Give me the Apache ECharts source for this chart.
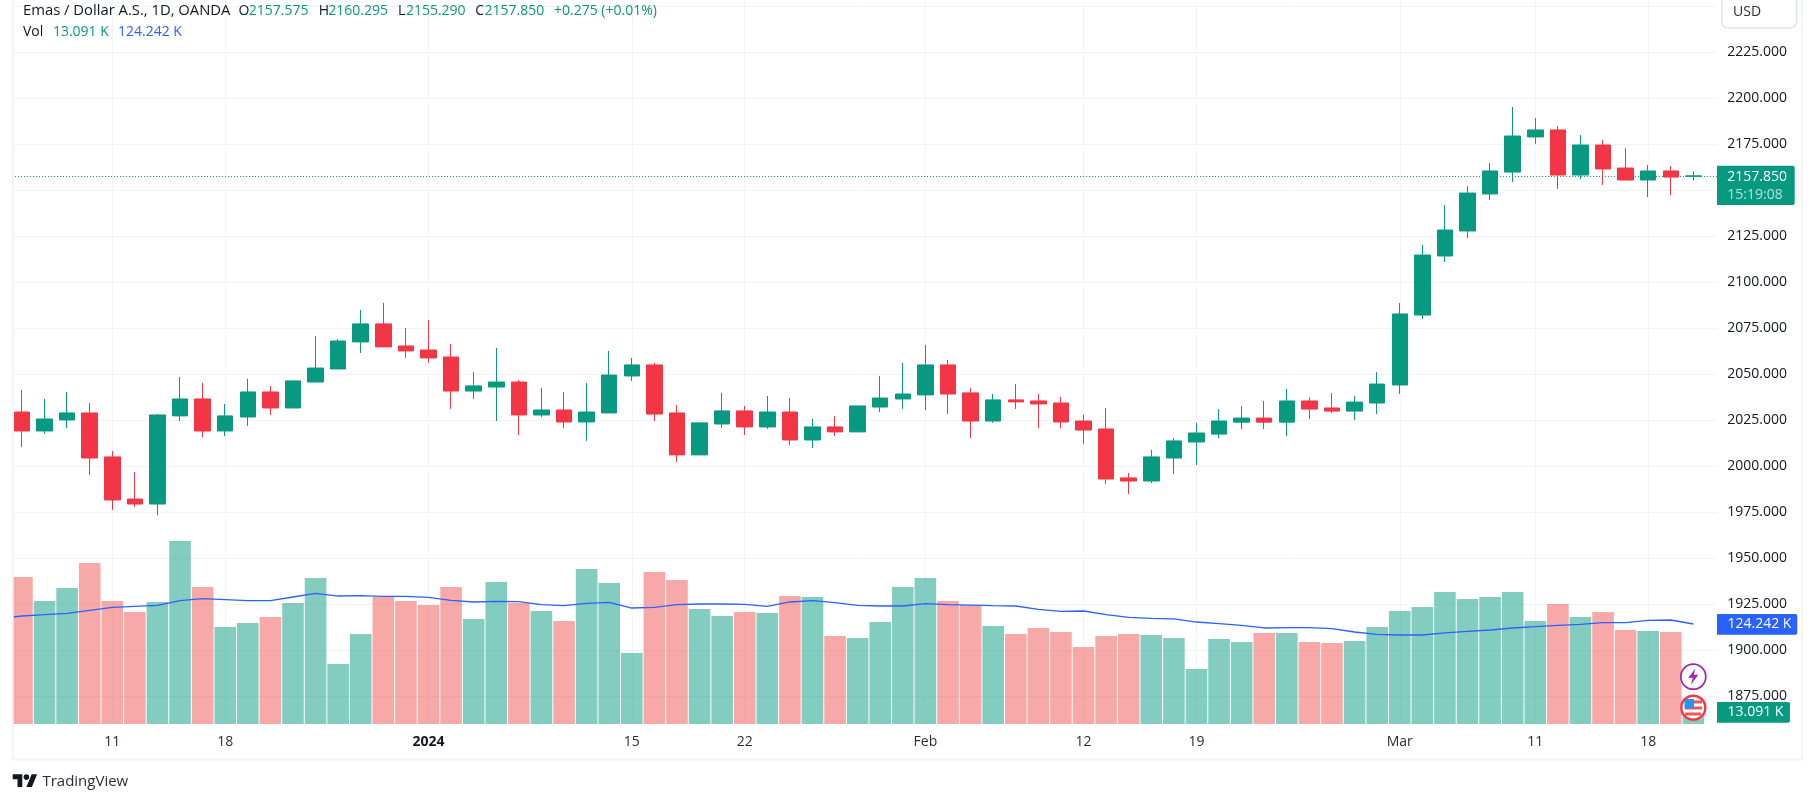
<!DOCTYPE html>
<html><head><meta charset="utf-8">
<style>html,body{margin:0;padding:0;background:#fff;overflow:hidden;width:1815px;height:803px}#c{position:absolute;left:-30px;top:0;width:1845px;height:803px}</style>
<script src="https://cdn.jsdelivr.net/npm/echarts@6/dist/echarts.min.js"></script>
</head><body><div id="c"></div>
<script>
const opens=[2029.5,2019.2,2025.2,2029.0,2005.1,1982.2,1979.5,2027.4,2036.6,2019.2,2026.8,2040.4,2031.7,2045.8,2052.9,2067.6,2077.4,2065.4,2063.2,2059.4,2040.9,2043.1,2045.8,2027.9,2030.6,2024.1,2029.0,2049.1,2055.1,2029.0,2006.2,2023.0,2030.1,2021.4,2029.5,2014.3,2021.4,2018.7,2032.2,2036.6,2038.8,2055.1,2039.9,2024.6,2036.1,2035.5,2034.4,2024.6,2020.3,1993.7,1992.0,2004.5,2013.2,2017.5,2024.0,2026.2,2024.0,2035.5,2031.7,2030.0,2034.4,2044.2,2082.2,2114.3,2127.9,2148.0,2159.9,2179.0,2182.8,2158.3,2174.6,2162.1,2155.6,2160.5,2157.575];
const closes=[2019.2,2025.7,2029.0,2004.5,1981.7,1979.5,2027.9,2036.6,2019.2,2027.4,2040.4,2031.7,2046.4,2053.4,2068.1,2077.4,2064.9,2062.7,2058.9,2040.9,2043.7,2045.8,2027.9,2030.6,2024.1,2029.5,2049.6,2055.1,2028.4,2006.2,2023.6,2030.1,2021.4,2029.5,2014.3,2021.4,2018.7,2032.8,2037.1,2039.3,2055.1,2039.3,2024.6,2036.1,2035.0,2033.9,2024.1,2019.7,1993.1,1992.0,2005.1,2013.8,2018.1,2024.6,2026.2,2024.0,2035.5,2031.1,2030.0,2034.9,2044.7,2082.8,2114.8,2128.4,2148.5,2160.5,2179.5,2182.8,2158.3,2174.6,2161.6,2155.6,2160.5,2157.2,2157.85];
const lows=[2010.5,2017.6,2020.8,1995.3,1976.3,1977.9,1973.5,2024.6,2015.9,2016.5,2021.9,2027.9,2031.7,2045.8,2052.9,2061.6,2064.9,2058.9,2056.2,2031.2,2036.6,2024.6,2017.0,2026.8,2020.8,2013.8,2029.0,2046.4,2024.6,2002.4,2006.2,2020.8,2017.0,2020.3,2011.6,2010.0,2016.5,2018.7,2029.5,2031.2,2030.6,2028.4,2015.4,2023.6,2031.2,2020.8,2020.8,2012.1,1990.4,1985.0,1990.9,1995.8,2000.7,2015.3,2020.2,2020.2,2016.4,2025.7,2028.9,2025.1,2028.4,2039.3,2080.0,2111.0,2124.1,2144.7,2154.5,2175.2,2150.7,2156.1,2152.9,2155.6,2146.3,2147.4,2155.29];
const highs=[2041.5,2036.6,2040.4,2034.4,2008.3,1996.9,2028.4,2048.5,2045.3,2033.9,2047.5,2043.7,2046.4,2070.8,2069.2,2085.0,2088.8,2075.2,2079.5,2066.5,2051.3,2064.3,2046.9,2042.6,2040.4,2045.3,2062.7,2058.9,2056.2,2033.3,2023.6,2039.9,2032.8,2038.2,2037.1,2025.7,2027.4,2032.8,2049.1,2056.2,2065.9,2057.8,2042.6,2039.3,2044.7,2039.3,2037.7,2027.9,2031.7,1996.4,2008.9,2015.4,2023.6,2031.1,2032.7,2035.5,2042.0,2037.6,2039.8,2038.2,2051.2,2088.7,2120.3,2142.0,2152.3,2164.8,2195.3,2189.3,2184.9,2180.0,2177.3,2173.0,2163.7,2163.2,2160.295];
const volumes=[182.6,152.8,169.0,200.0,152.8,139.1,151.6,227.4,170.2,120.5,125.5,132.9,150.3,181.4,74.5,111.8,157.8,152.8,147.8,170.2,130.5,176.4,150.3,140.4,128.0,192.6,175.2,88.2,188.8,178.9,142.9,134.2,139.1,137.9,159.0,157.8,109.3,106.8,126.7,170.2,181.4,152.8,147.8,121.8,111.8,119.3,114.3,95.7,109.3,111.8,110.6,106.8,68.3,105.6,101.9,113.1,113.1,101.9,100.6,103.1,120.5,140.4,145.4,164.0,155.3,157.8,164.0,128.0,149.1,132.9,139.1,116.8,115.5,114.3,13.091];
// one leading value: the moving average of the session just left of the visible window
const volumeMA=[130.9,134.2,135.8,137.5,141.2,144.9,146.2,147.4,153.2,155.7,154.5,153.2,153.2,157.8,162.3,159.0,159.4,158.6,158.6,157.4,153.6,151.6,152.4,152.0,148.3,147.0,149.9,151.2,144.1,144.9,148.3,149.1,149.1,148.7,146.2,151.6,153.2,150.7,147.4,146.6,146.6,149.5,148.3,147.8,147.0,146.6,142.5,140.0,140.4,135.8,132.5,131.3,130.5,126.7,124.7,122.6,119.3,119.7,119.7,118.4,114.3,111.4,110.6,110.6,113.1,115.1,116.8,119.3,120.9,122.6,123.8,125.9,125.9,128.8,129.2,124.242];
const tickLabels={5:'11',10:'18',19:'2024',28:'15',33:'22',41:'Feb',48:'12',53:'19',62:'Mar',68:'11',73:'18'};
const lastPrice=2157.85;

const FONT='"Open Sans", sans-serif';
const UP='#089981',DOWN='#F23645',BLUE='#2962FF',GRID='#f2f3f5',BORDER='#f0f3fa',TXT='#131722';
const categories=volumeMA.map((_,i)=>String(i)).concat(['76']);
const candles=[['-','-','-','-']].concat(opens.map((o,i)=>[o,closes[i],lows[i],highs[i]]));
const volBars=['-'].concat(volumes.map((v,i)=>({value:v,itemStyle:{color:closes[i]>=opens[i]?'rgba(8,153,129,0.5)':'rgba(239,83,80,0.5)'}})));
const isTick=i=>tickLabels[i]!==undefined;

const shift=30,bandW=22.587,plotL=shift+10.65-bandW,plotW=bandW*77;

function txt(x,y,s,color,font){return {type:'text',z:100,x:x,y:y,style:{text:s,fill:color,font:font||('14px '+FONT),verticalAlign:'middle'}}}
function rect(x,y,w,h,fill,r,z){return {type:'rect',z:z||90,shape:{x:x,y:y,width:w,height:h,r:r||0},style:{fill:fill}}}
function poly(pts,fill,z){return {type:'polygon',z:z||100,shape:{points:pts},style:{fill:fill}}}

const graphics=[
 rect(-30,0,42.7,724,'#fff',0,50),
 rect(1717,0,11,724,'#fff',0,50),
 rect(11.7,0,2,760.5,BORDER,0,60),
 rect(11.7,758.5,1791.3,2,BORDER,0,60),
 rect(1801,0,2,760.5,BORDER,0,60),
 {type:'rect',z:80,shape:{x:1722,y:-8,width:74.5,height:36,r:6},style:{fill:'#fff',stroke:'#e0e3eb',lineWidth:1.5}},
 txt(1733,12,'USD','#2a2e39'),
 rect(1717,165.7,77.7,39.3,UP,[0,2,2,0]),
 txt(1727.3,177,'2157.850','#fff'),
 txt(1727.3,195,'15:19:08','rgba(255,255,255,0.7)'),
 rect(1717,614,80.3,20.7,BLUE,[0,2,2,0]),
 txt(1727.5,624.5,'124.242 K','#fff'),
 rect(1717,702,73,20.7,UP,[0,2,2,0]),
 txt(1727.5,712.5,'13.091 K','#fff'),
 {type:'circle',z:90,shape:{cx:1693.3,cy:676.7,r:12.5},style:{fill:'#fff',stroke:'#9C27B0',lineWidth:1.7}},
 poly([[1695.3,668.7],[1688.3,677.7],[1692.8,677.7],[1690.8,684.7],[1698.3,674.7],[1693.8,674.7]],'#9C27B0',91),
 {type:'circle',z:90,shape:{cx:1693.3,cy:707.7,r:13},style:{fill:'#fff'}},
 rect(1685,706.5,17,3,'#F2545B',0,91),
 rect(1685,712.5,16,3,'#F2545B',0,91),
 rect(1694,700.5,8,3,'#F2545B',0,91),
 rect(1684.5,699,9.5,9.5,'#2196F3',0,92),
 {type:'circle',z:93,shape:{cx:1693.3,cy:707.7,r:12},style:{fill:'none',stroke:DOWN,lineWidth:2.4}},
 txt(23,11,'Emas / Dollar A.S., 1D, OANDA',TXT,'14.8px '+FONT),
 txt(238.4,11,'O',TXT),txt(248.8,11,'2157.575',UP),
 txt(318.7,11,'H',TXT),txt(328.3,11,'2160.295',UP),
 txt(398.1,11,'L',TXT),txt(405.9,11,'2155.290',UP),
 txt(475.3,11,'C',TXT),txt(484.6,11,'2157.850',UP),
 txt(554,11,'+0.275 (+0.01%)',UP),
 txt(23,32,'Vol',TXT),txt(52.9,32,'13.091 K',UP),txt(118,32,'124.242 K',BLUE),
 poly([[12.7,774.3],[22.3,774.3],[22.3,787],[17.5,787],[17.5,779.3],[12.7,779.3]],TXT),
 poly([[26.4,787],[31.6,774.3],[37.1,774.3],[31.9,787]],TXT),
 {type:'circle',z:100,shape:{cx:26.4,cy:777.1,r:2.8},style:{fill:TXT}},
 txt(42.4,781.5,'TradingView','#2a2e39','15px '+FONT)
];

const chart=echarts.init(document.getElementById('c'),null,{renderer:'canvas',width:1845,height:803});
chart.setOption({
 animation:false,backgroundColor:'#fff',
 textStyle:{fontFamily:FONT},
 grid:[
  {left:plotL,width:plotW,top:6.3,height:690,containLabel:false},
  {left:plotL,width:plotW,top:524,height:200,containLabel:false}
 ],
 xAxis:[
  {type:'category',gridIndex:0,data:categories,show:false,boundaryGap:true},
  {type:'category',gridIndex:1,data:categories,boundaryGap:true,
   axisLine:{show:false},
   axisTick:{show:true,inside:true,length:724,alignWithLabel:true,interval:i=>isTick(i),lineStyle:{color:GRID,width:1}},
   axisLabel:{show:true,interval:i=>isTick(i),margin:11,fontSize:14,fontFamily:FONT,color:'#2a2e39',hideOverlap:false,
    formatter:(v,i)=>{const t=tickLabels[i];return t==='2024'?'{b|2024}':(t||'')},
    rich:{b:{fontWeight:'bold',fontSize:14,fontFamily:FONT,color:TXT}}},
   splitLine:{show:false}}
 ],
 yAxis:[
  {type:'value',gridIndex:0,position:'right',min:1875,max:2250,interval:25,scale:true,
   axisLine:{show:false},axisTick:{show:false},
   axisLabel:{margin:0,fontSize:14,fontFamily:FONT,color:TXT,hideOverlap:false,formatter:v=>v===2250?'':v.toFixed(3)},
   splitLine:{show:true,lineStyle:{color:GRID,width:1}}},
  {type:'value',gridIndex:1,min:0,max:248.484,show:false,splitLine:{show:false}}
 ],
 series:[
  {type:'bar',name:'Vol',xAxisIndex:1,yAxisIndex:1,data:volBars,barWidth:21.6,z:2},
  {type:'line',name:'Vol MA',xAxisIndex:1,yAxisIndex:1,data:volumeMA,symbol:'none',smooth:false,lineStyle:{color:BLUE,width:1.3},z:3},
  {type:'candlestick',name:'Emas',xAxisIndex:0,yAxisIndex:0,data:candles,barWidth:16,z:4,
   itemStyle:{color:UP,color0:DOWN,borderColor:UP,borderColor0:DOWN,borderWidth:1},
   markLine:{silent:true,symbol:'none',label:{show:false},animation:false,z:3,
    lineStyle:{color:UP,type:[1,2],width:1},data:[{yAxis:lastPrice}]}}
 ],
 graphic:{elements:[{type:'group',x:shift,y:0,children:graphics}]}
});
</script></body></html>
